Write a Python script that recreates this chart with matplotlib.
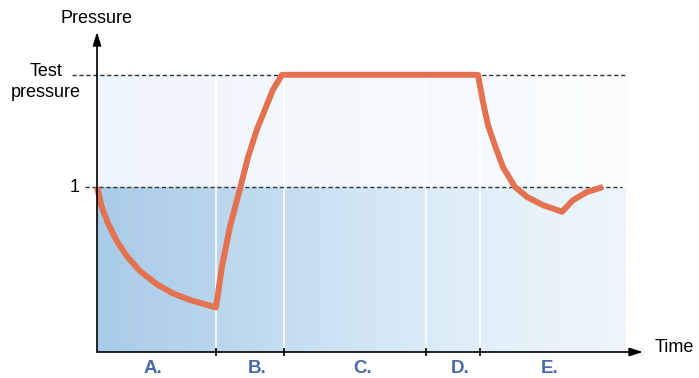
import numpy as np
import matplotlib
matplotlib.use("Agg")
import matplotlib.pyplot as plt
from matplotlib.colors import LinearSegmentedColormap

# ---- data ----
time_pts = [0, 4.7, 11, 20, 30, 43, 60, 76, 93, 119,
            125, 133, 143, 151, 160, 168, 176, 185,
            381,
            386, 391, 398, 406, 418, 430, 446, 465,
            476, 490, 506]
pressure_pts = [1.0, 0.88, 0.78, 0.67, 0.58, 0.49, 0.41, 0.355, 0.315, 0.27,
                0.52, 0.76, 0.99, 1.18, 1.35, 1.47, 1.59, 1.68,
                1.68,
                1.515, 1.375, 1.25, 1.12, 1.0, 0.94, 0.89, 0.85,
                0.92, 0.97, 1.0]
phase_ticks = [119, 187, 329, 383]
phase_labels = ["A.", "B.", "C.", "D.", "E."]
phase_label_pos = [56, 160, 266, 363, 453]
test_pressure = 1.68
atmospheric = 1.0

W, H = 699, 378
fig = plt.figure(figsize=(W / 100, H / 100), dpi=100)
ax = fig.add_axes([97 / W, (H - 352) / H, 546 / W, 320 / H])
ax.set_xlim(0, 546)
ax.set_ylim(0, 320 / 165)
ax.axis("off")

# background shading
cm_low = LinearSegmentedColormap.from_list(
    "low", ["#a9cbe7", "#bcd7ee", "#d2e6f4", "#e3f0f9", "#eef6fc"])
cm_high = LinearSegmentedColormap.from_list(
    "high", ["#eef5fb", "#f5f9fd", "#fbfdfe"])
grad = np.linspace(0, 1, 256).reshape(1, -1)
ax.imshow(grad, extent=[0, 528, 0, atmospheric], aspect="auto",
          cmap=cm_low, zorder=0)
ax.imshow(grad, extent=[0, 528, atmospheric, test_pressure], aspect="auto",
          cmap=cm_high, zorder=0)
ax.vlines(phase_ticks, 0, test_pressure, colors="white", lw=1.2, zorder=1)

# dashed reference lines
ax.plot([-25, 528], [test_pressure] * 2, ls=(0, (3, 2)), color="#333333",
        lw=1, clip_on=False, zorder=2)
ax.plot([-12, 525], [atmospheric] * 2, ls=(0, (3, 2)), color="#333333",
        lw=1, clip_on=False, zorder=2)

# curve
ax.plot(time_pts, pressure_pts, color="#e4714f", lw=4.3,
        solid_joinstyle="round", solid_capstyle="butt", zorder=4,
        clip_on=False)

# axes with arrows
arrow = dict(arrowstyle="-|>,head_length=0.8,head_width=0.25",
             color="black", lw=1.2, shrinkA=0, shrinkB=0)
ax.annotate("", xy=(546, 0), xytext=(0, 0), arrowprops=arrow,
            annotation_clip=False, zorder=5)
ax.annotate("", xy=(0, 320 / 165), xytext=(0, 0), arrowprops=arrow,
            annotation_clip=False, zorder=5)
ax.vlines(phase_ticks, -0.025, 0.025, colors="black", lw=1.2,
          clip_on=False, zorder=5)

# texts
font = "Liberation Sans"
ax.text(0, 2.02, "Pressure", ha="center", va="center", fontsize=13,
        family=font, clip_on=False)
ax.text(558, 0.03, "Time", ha="left", va="center", fontsize=13,
        family=font, clip_on=False)
ax.text(-22, atmospheric, "1", ha="center", va="center", fontsize=13,
        family=font, clip_on=False)
ax.text(-51, 1.70, "Test", ha="center", va="center", fontsize=13,
        family=font, clip_on=False)
ax.text(-51, 1.57, "pressure", ha="center", va="center", fontsize=13,
        family=font, clip_on=False)
for lab, x in zip(phase_labels, phase_label_pos):
    ax.text(x, -0.097, lab, ha="center", va="center", fontsize=13.5,
            fontweight="bold", color="#4a6aa5", family=font, clip_on=False)

fig.savefig("out.png", dpi=100)
